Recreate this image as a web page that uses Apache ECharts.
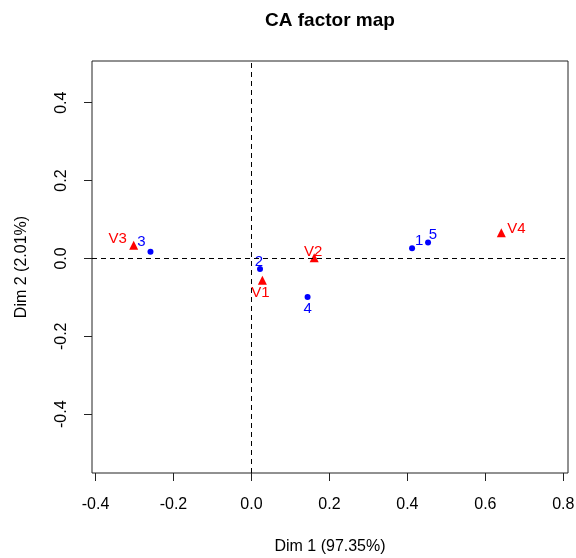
<!DOCTYPE html>
<html>
<head>
<meta charset="utf-8">
<script src="https://cdn.jsdelivr.net/npm/echarts@6/dist/echarts.min.js"></script>
<style>
  html, body { margin: 0; padding: 0; background: #fff; }
  #chart { width: 576px; height: 558px; }
</style>
</head>
<body>
<div id="chart"></div>
<script>
// row points (blue dots)
const rowNames = ['1', '2', '3', '4', '5'];
const rowDim1 = [0.412, 0.022, -0.259, 0.144, 0.453];
const rowDim2 = [0.026, -0.027, 0.017, -0.099, 0.041];

// column points (red triangles)
const colNames = ['V1', 'V2', 'V3', 'V4'];
const colDim1 = [0.028, 0.161, -0.302, 0.641];
const colDim2 = [-0.056, 0.002, 0.034, 0.066];

const xTicks = [-0.4, -0.2, 0.0, 0.2, 0.4, 0.6, 0.8];
const yTicks = [-0.4, -0.2, 0.0, 0.2, 0.4];

// label placement (pixel offsets from each point), styling only
const labelOffsets = {
  '1': [7, -7], '2': [-1, -7], '3': [-9, -10], '4': [0, 12], '5': [5, -8],
  'V1': [-2, 13], 'V2': [-1, -6], 'V3': [-16, -6], 'V4': [15, -4]
};

const FONT = 'Liberation Sans, Arial, sans-serif';
const chart = echarts.init(document.getElementById('chart'), null, { renderer: 'canvas' });

const mkData = (names, xs, ys, color) => names.map((n, i) => ({
  name: n,
  value: [xs[i], ys[i]],
  label: {
    show: true,
    position: 'inside',
    offset: labelOffsets[n],
    formatter: n,
    color: color,
    fontSize: 15,
    fontFamily: FONT
  }
}));

chart.setOption({
  animation: false,
  graphic: [{
    type: 'text',
    x: 330, y: 21,
    style: {
      text: 'CA factor map',
      font: 'bold 19px ' + FONT,
      fill: '#000',
      align: 'center',
      verticalAlign: 'middle'
    }
  }],
  grid: {
    left: 92, right: 8, top: 61, bottom: 85,
    outerBoundsMode: 'none',
    containLabel: false,
    show: true, borderColor: '#222', borderWidth: 1, backgroundColor: 'transparent'
  },
  xAxis: {
    type: 'value',
    min: -0.409, max: 0.812,
    name: 'Dim 1 (97.35%)',
    nameLocation: 'middle',
    nameGap: 66,
    nameTextStyle: { color: '#000', fontSize: 16, fontFamily: FONT },
    axisLine: { show: false, onZero: false },
    splitLine: { show: false },
    axisTick: { show: true, inside: false, length: 8, customValues: xTicks, lineStyle: { color: '#222' } },
    axisLabel: {
      customValues: xTicks,
      margin: 24,
      color: '#000', fontSize: 16, fontFamily: FONT,
      formatter: v => v.toFixed(1)
    }
  },
  yAxis: {
    type: 'value',
    min: -0.551, max: 0.507,
    name: 'Dim 2 (2.01%)',
    nameLocation: 'middle',
    nameGap: 62,
    nameTextStyle: { color: '#000', fontSize: 16, fontFamily: FONT },
    axisLine: { show: false, onZero: false },
    splitLine: { show: false },
    axisTick: { show: true, inside: false, length: 8, customValues: yTicks, lineStyle: { color: '#222' } },
    axisLabel: {
      customValues: yTicks,
      rotate: 90,
      margin: 22,
      color: '#000', fontSize: 16, fontFamily: FONT,
      formatter: v => v.toFixed(1)
    }
  },
  series: [
    {
      name: 'rows',
      type: 'scatter',
      symbol: 'circle',
      symbolSize: 6,
      itemStyle: { color: '#0000FF', opacity: 1 },
      data: mkData(rowNames, rowDim1, rowDim2, '#0000FF'),
      markLine: {
        silent: true,
        symbol: 'none',
        label: { show: false },
        lineStyle: { color: '#000', width: 1, type: [5, 4] },
        data: [{ xAxis: 0 }, { yAxis: 0 }]
      }
    },
    {
      name: 'columns',
      type: 'scatter',
      symbol: 'triangle',
      symbolSize: 9,
      itemStyle: { color: '#FF0000', opacity: 1 },
      data: mkData(colNames, colDim1, colDim2, '#FF0000')
    }
  ]
});
</script>
</body>
</html>
